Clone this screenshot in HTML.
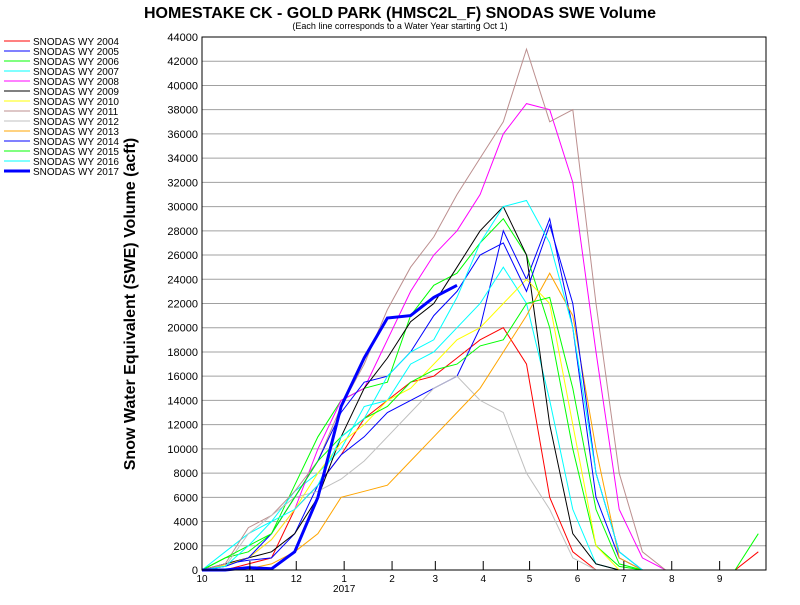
<!DOCTYPE html>
<html><head><meta charset="utf-8"><style>
body{margin:0;background:#fff;}
svg text{font-family:"Liberation Sans",sans-serif;}
</style></head><body>
<svg id="c" width="800" height="600" xmlns="http://www.w3.org/2000/svg">
<text x="400" y="18" text-anchor="middle" font-size="16" font-weight="bold">HOMESTAKE CK - GOLD PARK (HMSC2L_F) SNODAS SWE Volume</text>
<text x="400" y="29" text-anchor="middle" font-size="9">(Each line corresponds to a Water Year starting Oct 1)</text>
<text transform="translate(135,304) rotate(-90)" text-anchor="middle" font-size="16" font-weight="bold">Snow Water Equivalent (SWE) Volume (acft)</text>
<g id="grid"></g><g id="series"></g><g id="axes"></g><g id="legend"></g>
</svg>
<script>
const days=[0,15,30,45,60,75,90,105,120,135,150,165,180,195,210,225,240,255,270,285,300,315,330,345,360];
const names=["SNODAS WY 2004","SNODAS WY 2005","SNODAS WY 2006","SNODAS WY 2007","SNODAS WY 2008","SNODAS WY 2009","SNODAS WY 2010","SNODAS WY 2011","SNODAS WY 2012","SNODAS WY 2013","SNODAS WY 2014","SNODAS WY 2015","SNODAS WY 2016","SNODAS WY 2017"];
const colors=["#ff0000","#0000ff","#00ff00","#00ffff","#ff00ff","#000000","#ffff00","#bc8f8f","#c0c0c0","#ffa500","#0000ff","#00ff00","#00ffff","#0000ff"];
const wy2004=[0,0,500,1000,5000,7000,9500,12500,14000,15500,16000,17500,19000,20000,17000,6000,1500,0,0,0,0,0,0,0,1500];
const wy2005=[0,500,800,1000,3000,7000,9500,11000,13000,14000,15000,16000,20000,28000,24000,29000,20000,6000,1000,0,0,0,0,0,0];
const wy2006=[0,1000,1500,3000,7000,11000,14000,15000,15500,21000,23500,24500,27000,29000,26000,20000,10000,2000,300,0,0,0,0,0,0];
const wy2007=[0,1500,3000,4000,6500,8000,10000,13500,14000,17000,18000,20000,22000,25000,22000,14000,5000,500,0,0,0,0,0,0,0];
const wy2008=[0,500,1000,2500,5000,10000,14000,15000,19000,23000,26000,28000,31000,36000,38500,38000,32000,18000,5000,1000,0,0,0,0,0];
const wy2009=[0,500,1000,1500,3000,6000,11000,15000,17500,20500,22000,25000,28000,30000,26000,12000,3000,500,0,0,0,0,0,0,0];
const wy2010=[0,400,1000,2500,5000,8000,10500,12000,14000,15000,17000,19000,20000,22000,24000,22000,12000,2000,0,0,0,0,0,0,0];
const wy2011=[0,500,3500,4500,6500,9000,13500,17000,21500,25000,27500,31000,34000,37000,43000,37000,38000,22000,8000,1500,0,0,0,0,0];
const wy2012=[0,300,3000,4500,6000,6500,7500,9000,11000,13000,15000,16000,14000,13000,8000,5000,1000,0,0,0,0,0,0,0,0];
const wy2013=[0,0,100,500,1500,3000,6000,6500,7000,9000,11000,13000,15000,18000,21000,24500,21000,10000,1000,0,0,0,0,0,0];
const wy2014=[0,300,1000,3000,6000,9000,13000,15500,16000,18000,21000,23000,26000,27000,23000,28500,22000,8000,1500,0,0,0,0,0,0];
const wy2015=[0,1000,2000,3000,6000,9000,11000,12500,13500,15500,16500,17000,18500,19000,22000,22500,15000,5000,500,0,0,0,0,0,3000];
const wy2016=[0,300,2000,4000,5000,7000,11000,12500,16000,18000,19000,22500,27000,30000,30500,27000,20000,8000,1500,0,0,0,0,0,0];
const wy2017=[0,0,200,100,1500,6000,13500,17500,20800,21000,22500,23500,null,null,null,null,null,null,null,null,null,null,null,null,null];
const series=[wy2004,wy2005,wy2006,wy2007,wy2008,wy2009,wy2010,wy2011,wy2012,wy2013,wy2014,wy2015,wy2016,wy2017];
const monthStarts=[0,31,61,92,123,151,182,212,243,273,304,335,365];
const monthLabels=["10","11","12","1","2","3","4","5","6","7","8","9"];
const yTicks=[0,2000,4000,6000,8000,10000,12000,14000,16000,18000,20000,22000,24000,26000,28000,30000,32000,34000,36000,38000,40000,42000,44000];
const L=202,R=766,T=37,B=570;
const X=d=>L+d*(R-L)/365, Y=v=>B-v*(B-T)/44000;
const NS="http://www.w3.org/2000/svg";
function mk(t,a,p){const e=document.createElementNS(NS,t);for(const k in a)e.setAttribute(k,a[k]);p.appendChild(e);return e;}
const grid=document.getElementById('grid'),axes=document.getElementById('axes'),sg=document.getElementById('series'),lg=document.getElementById('legend');
yTicks.forEach(v=>{
 const l=mk('line',{x1:L,x2:R,y1:Y(v),y2:Y(v),stroke:'#a0a0a0','stroke-width':1},grid);
 
 
 const t=mk('text',{x:L-4,y:Y(v)+4,'text-anchor':'end','font-size':11},axes);t.textContent=v;
 
 
});
monthStarts.forEach((d,i)=>{
 const l=mk('line',{x1:X(d),x2:X(d),y1:B,y2:B-9,stroke:'#000'},axes);
 
 
 if(i<monthLabels.length){const t=mk('text',{x:X(d),y:B+12,'text-anchor':'middle','font-size':10},axes);t.textContent=monthLabels[i];
 
 }
});
const yr=mk('text',{x:X(92),y:B+22,'text-anchor':'middle','font-size':10},axes);yr.textContent='2017';


const fr=mk('rect',{x:L,y:T,width:R-L,height:B-T,fill:'none',stroke:'#000'},axes);


series.forEach((s,i)=>{
 let pts=[];s.forEach((v,j)=>{if(v!==null)pts.push(X(days[j]).toFixed(1)+','+Y(v).toFixed(1));});
 const p=mk('polyline',{points:pts.join(' '),fill:'none',stroke:colors[i],'stroke-width':i==13?3:1},sg);
 
 
 const ly=41+i*10;
 const ll=mk('line',{x1:4,x2:30,y1:ly,y2:ly,stroke:colors[i],'stroke-width':i==13?3:1},lg);
 
 
 const lt=mk('text',{x:33,y:ly+4,'font-size':10},lg);lt.textContent=names[i];
 
 
});
</script>
</body></html>
